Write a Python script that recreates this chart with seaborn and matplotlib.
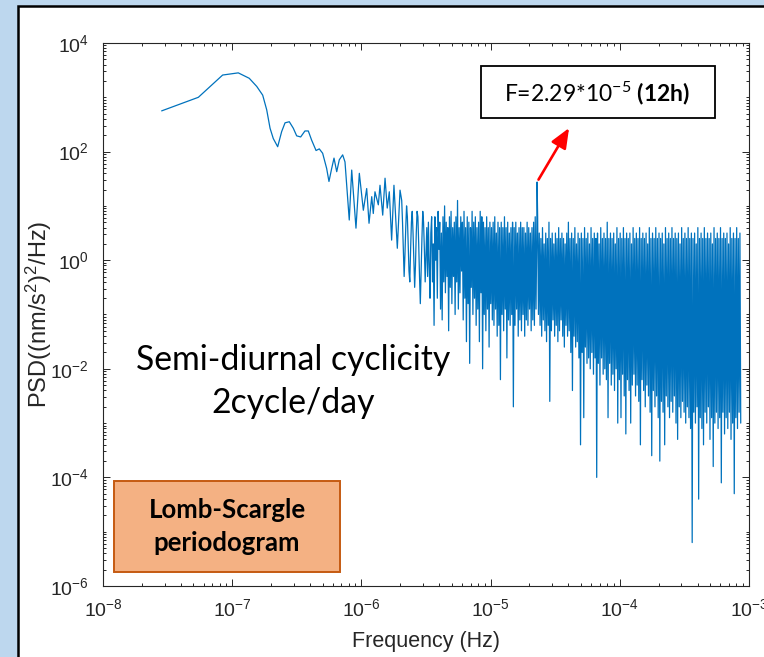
import numpy as np
import pandas as pd
import matplotlib
matplotlib.use("Agg")
import matplotlib.pyplot as plt
from matplotlib.patches import Rectangle
from matplotlib.ticker import LogLocator, NullFormatter
import seaborn as sns

# ---------------------------------------------------------------------------
# Lomb-Scargle periodogram of the gravity residuals
# PSD values are stored in dB: 10*log10(PSD [(nm/s^2)^2/Hz])
# ---------------------------------------------------------------------------

# Low-frequency part, irregular spacing (log10 of frequency in Hz)
low_log_freq = [
    -7.546, -7.262, -7.074, -6.953, -6.868, -6.810, -6.764, -6.733, -6.707,
    -6.682, -6.648, -6.617, -6.591, -6.558, -6.527, -6.501, -6.470, -6.437,
    -6.411, -6.385, -6.351, -6.326, -6.300, -6.269, -6.251, -6.230, -6.212,
    -6.191, -6.171, -6.145, -6.127, -6.094, -6.075, -6.042, -6.016, -5.985,
    -5.959, -5.941, -5.920, -5.908, -5.895, -5.869, -5.856, -5.835, -5.817,
    -5.800, -5.784, -5.766, -5.748, -5.722, -5.701,
]
low_psd_db = [
    27.5, 30.0, 34.1, 34.5, 33.5, 32.0, 30.4, 27.7, 24.3,
    22.4, 20.9, 23.7, 25.3, 25.5, 24.3, 22.9, 22.7, 23.8,
    23.8, 22.1, 20.2, 20.5, 19.7, 16.9, 14.5, 16.9, 18.8,
    16.3, 18.5, 19.4, 18.1, 7.4, 16.6, 5.9, 16.0, 9.2,
    13.2, 6.8, 11.7, 8.6, 12.6, 10.2, 13.8, 8.3, 15.1,
    9.6, 12.6, 3.7, 13.8, 2.2, 12.9,
]

# High-frequency part, samples evenly spaced in log10 frequency
dense_log_freq_start = -5.688
dense_log_freq_stop = -3.064
dense_psd_db = np.array("""
 11 7 2 -3 1 6 10 8 3 -2
 -4 2 7 9 5 0 -5 -1 5 9
 8 3 -3 -8 -2 4 9 7 2 -4
 1 6 -3 7 -1 -7 5 8 -4 3
 -12 8 0 6 -7 9 2 7 -9 5
 -11 8 -4 10 -6 7 -3 6 -13 8
 -5 9 -8 6 -3 7 -10 8 -4 11
 -9 6 -6 8 -2 7 -11 9 -7 6
 -15 8 -8 7 -19 6 -5 9 -10 7
 -7 8 -12 6 -9 7 -15 9 -6 8
 -20 7 -10 6 -13 8 -9 6 -16 7
 -8 6 -11 7 -12 8 -9 5 -14 7
 -12 6 -22 7 -10 6 -13 8 -9 6
 -18 7 -11 5 -12 6 -10 7 -27 6
 -12 7 -9 5 -14 6 -11 7 -13 6
 -10 6 -14 5 -11 7 -12 6 -9 5
 -13 6 -11 7 -12 8 -9 6 8 -10
 5 -12 4 -14 6 -11 3 -13 5 -15
 4 -12 7 -26 4 -13 5 -11 3 -14
 5 -12 4 -15 6 -13 4 -11 5 -14
 4 -16 3 -12 5 -14 7 -13 4 -17
 5 -24 4 -14 6 -16 3 -15 5 -18
 4 -34 5 -17 4 -29 6 -16 4 -19
 5 -18 3 -20 6 -17 4 -21 5 -18
 4 -40 5 -19 3 -23 6 -18 4 -21
 5 -20 4 -22 7 -29 4 -19 5 -23
 4 -21 5 -24 3 -20 6 -30 4 -22
 5 -29 4 -21 6 -25 4 -32 5 -22
 4 -24 5 -30 3 -23 6 -21 4 -25
 5 -23 4 -26 6 -34 4 -22 5 -24
 4 -27 5 -23 3 -25 6 -28 4 -36
 5 -24 4 -27 6 -25 4 -29 5 -37
 4 -26 5 -28 3 -34 6 -25 4 -27
 5 -29 4 -26 6 -28 4 -25 5 -30
 4 -33 5 -27 3 -29 6 -26 4 -28
 5 -30 4 -27 6 -29 4 -31 5 -52
 4 -28 5 -30 3 -27 6 -44 4 -29
 5 -31 4 -34 6 -28 4 -30 5 -27
 4 -33 5 -29 3 -38 6 -30 4 -28
 5 -31 4 -29 6 -41 4 -28 5 -32
 4 -29 5 -31 3 -28 6 -33 4 -30
 5 -43 4 -29 6 -31 4 -28 5 -30
""".split(), dtype=float)

# Semi-diurnal (12 h) line
peak_freq = 2.29e-5
peak_db = 14.4

# Axis ranges and tick decades
x_decades = [-8, -7, -6, -5, -4, -3]
y_decades = [-6, -4, -2, 0, 2, 4]

# ---------------------------------------------------------------------------
# Assemble the spectrum
# ---------------------------------------------------------------------------
dense_log_freq = np.linspace(dense_log_freq_start, dense_log_freq_stop,
                             dense_psd_db.size)
freq = 10.0 ** np.concatenate([low_log_freq, dense_log_freq])
psd = 10.0 ** (np.concatenate([low_psd_db, dense_psd_db]) / 10.0)
peak_psd = 10.0 ** (peak_db / 10.0)
pos = np.searchsorted(freq, peak_freq)
freq = np.insert(freq, pos, peak_freq)
psd = np.insert(psd, pos, peak_psd)
spectrum = pd.DataFrame({"Frequency (Hz)": freq, "PSD": psd})

# ---------------------------------------------------------------------------
# Styling
# ---------------------------------------------------------------------------
sns.set_theme(style="ticks")
plt.rcParams["font.family"] = ["Liberation Sans", "DejaVu Sans"]
plt.rcParams["mathtext.fontset"] = "custom"
plt.rcParams["mathtext.rm"] = "Lato"
plt.rcParams["mathtext.bf"] = "Lato:bold"
plt.rcParams["axes.unicode_minus"] = False

W, H = 764, 657
fig = plt.figure(figsize=(W / 100, H / 100), dpi=100, facecolor="#BDD7EE")

# white slide panel with black frame
fig.patches.append(Rectangle((18 / W, -0.05), 1.0, 1 - 6 / H + 0.05,
                             transform=fig.transFigure, facecolor="white",
                             edgecolor="black", linewidth=1.8, zorder=-10))

ax = fig.add_axes([103 / W, 1 - 586 / H, (749 - 103) / W, (586 - 43) / H])
ax.set_facecolor("white")

sns.lineplot(data=spectrum, x="Frequency (Hz)", y="PSD", ax=ax,
             color="#0072BD", linewidth=0.9, estimator=None, sort=False,
             legend=False)

ax.set_xscale("log")
ax.set_yscale("log")
ax.set_xlim(10.0 ** x_decades[0], 10.0 ** x_decades[-1])
ax.set_ylim(10.0 ** y_decades[0], 10.0 ** y_decades[-1])
ax.set_xticks([10.0 ** d for d in x_decades])
ax.set_yticks([10.0 ** d for d in y_decades])
ax.xaxis.set_minor_locator(LogLocator(base=10, subs=np.arange(2, 10), numticks=100))
ax.yaxis.set_minor_locator(LogLocator(base=10, subs=np.arange(1, 10), numticks=200))
ax.xaxis.set_minor_formatter(NullFormatter())
ax.yaxis.set_minor_formatter(NullFormatter())

ink = "#262626"
for s in ax.spines.values():
    s.set_visible(True)
    s.set_color(ink)
    s.set_linewidth(0.8)
ax.tick_params(which="both", direction="in", top=True, right=True,
               color=ink, width=0.7)
ax.tick_params(which="major", length=5, labelsize=14, labelcolor=ink)
ax.tick_params(axis="x", which="major", pad=9)
ax.tick_params(axis="y", which="major", pad=10)
ax.tick_params(which="minor", length=2.5)

ax.set_xlabel("Frequency (Hz)", fontsize=15.5, color=ink)
ax.set_ylabel(r"PSD((nm/s$\mathregular{^2}$)$\mathregular{^2}$/Hz)",
              fontsize=17, color=ink)
ax.xaxis.set_label_coords(0.5, (586 - 631) / (586 - 43))
ax.yaxis.set_label_coords((54 - 103) / (749 - 103), 0.5)

# ---------------------------------------------------------------------------
# Annotations
# ---------------------------------------------------------------------------
def axfrac(px, py):
    return (px - 103) / (749 - 103), (586 - py) / (586 - 43)

# 12 h line label box
bx0, by0 = axfrac(481, 118)
bx1, by1 = axfrac(715, 66)
ax.add_patch(Rectangle((bx0, by0), bx1 - bx0, by1 - by0, transform=ax.transAxes,
                       facecolor="white", edgecolor="black", linewidth=1.3,
                       zorder=5))
mant = peak_freq / 1e-5
tx, ty = axfrac(597, 101.7)
ax.text(tx, ty, f"F={mant:.2f}*10" + r"$\mathregular{^{-5}}$ $\mathbf{(12h)}$",
        transform=ax.transAxes, ha="center", va="baseline", fontsize=16.5,
        family="Lato", color="black", zorder=6)

# arrow pointing at the 12 h peak
ax.annotate("", xy=(4.05e-5, 272.0), xytext=(peak_freq, peak_psd),
            arrowprops=dict(arrowstyle="-|>,head_length=0.6,head_width=0.25",
                            color="red", lw=1.9, mutation_scale=20,
                            shrinkA=2, shrinkB=0),
            zorder=6)

# description
cx, l1 = axfrac(293, 370)
_, l2 = axfrac(294, 413)
ax.text(cx, l1, "Semi-diurnal cyclicity", transform=ax.transAxes, ha="center",
        va="baseline", fontsize=24.3, family="Lato", color="black")
ax.text(cx, l2, "2cycle/day", transform=ax.transAxes, ha="center",
        va="baseline", fontsize=24.3, family="Lato", color="black")

# method box
ox0, oy0 = axfrac(114, 572)
ox1, oy1 = axfrac(340, 481)
ax.add_patch(Rectangle((ox0, oy0), ox1 - ox0, oy1 - oy0, transform=ax.transAxes,
                       facecolor="#F4B183", edgecolor="#C55A11", linewidth=1.4,
                       zorder=5))
mx, m1 = axfrac(227, 518)
_, m2 = axfrac(227, 551)
for yy, s in ((m1, "Lomb-Scargle"), (m2, "periodogram")):
    ax.text(mx, yy, s, transform=ax.transAxes, ha="center", va="baseline",
            fontsize=18.5, family="Lato", fontweight="bold", color="black",
            zorder=6)

fig.savefig("out.png", dpi=100, facecolor=fig.get_facecolor())
